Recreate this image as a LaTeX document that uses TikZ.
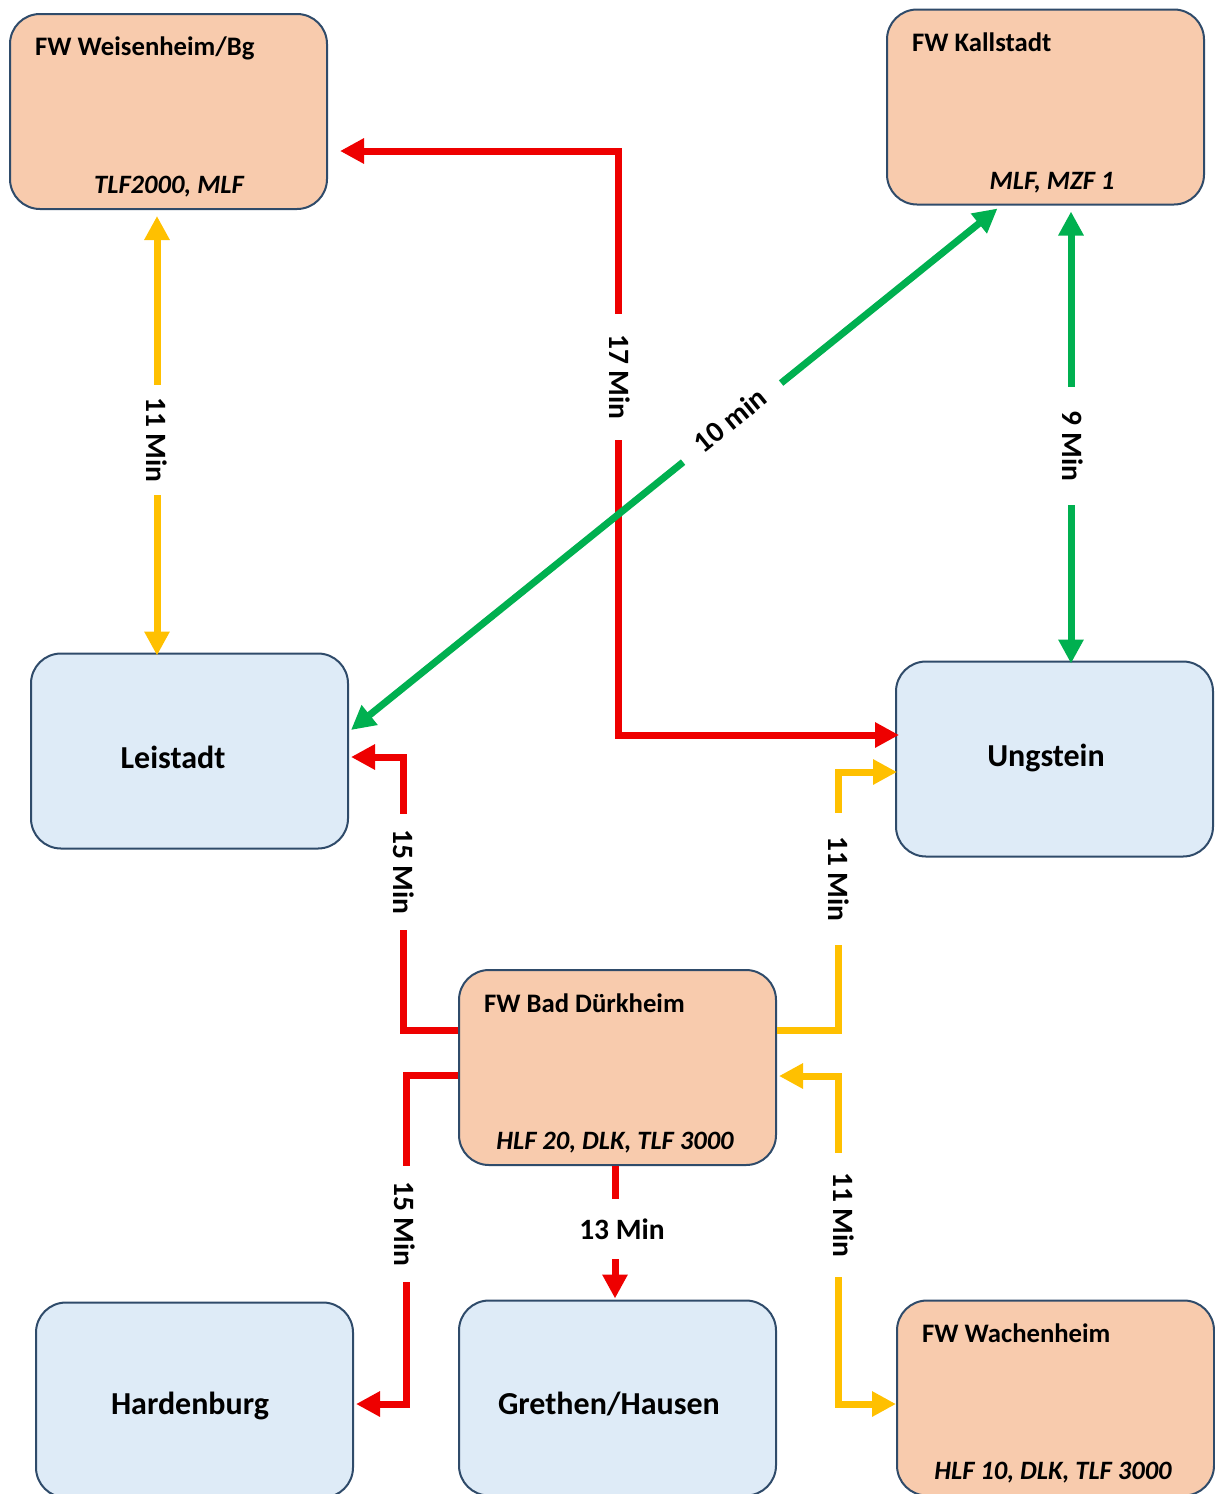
\documentclass[tikz,border=0pt]{standalone}
\usepackage{fontspec}
\setmainfont{Carlito}
\usetikzlibrary{arrows.meta, positioning, calc}
\definecolor{cred}{HTML}{EE0000}
\definecolor{cyellow}{HTML}{FFC000}
\definecolor{cgreen}{HTML}{00B050}
\definecolor{corange}{HTML}{F8CBAD}
\definecolor{clblue}{HTML}{DEEBF7}
\definecolor{cborder}{HTML}{2F4B6A}

\begin{document}
\begin{tikzpicture}[
    x=1pt, y=-1pt,
    box/.style={draw=cborder, line width=2pt, rounded corners=30pt, minimum width=317pt, minimum height=195pt, inner sep=0pt, fill=#1},
    box/.default=clblue,
    place/.style={font=\fontsize{32}{37}\selectfont\bfseries},
    title/.style={anchor=base west, inner sep=0pt, font=\fontsize{26.7}{31}\selectfont\bfseries},
    vehicles/.style={anchor=base, inner sep=0pt, font=\fontsize{26.5}{31}\selectfont\bfseries\itshape},
    both/.style={line width=7pt, draw=#1, {Triangle[length=24pt, width=24pt]}-{Triangle[length=24pt, width=24pt]}},
    to/.style={line width=7pt, draw=#1, -{Triangle[length=24pt, width=24pt]}},
    time/.style={fill=white, inner xsep=#1, inner ysep=1pt, font=\fontsize{29.5}{34}\selectfont\bfseries},
    time/.default=12pt
]
\useasboundingbox (0,0) rectangle (1215,1494);

%% Fire stations
\node[box=corange] (weis) at (168.5,111.5) {};
\node[title] (weis_t) at (35,55) {FW Weisenheim/Bg};
\node[vehicles] (weis_v) at (169,193) {TLF2000, MLF};

\node[box=corange] (kall) at (1045.5,107) {};
\node[title] (kall_t) at (912,51) {FW Kallstadt};
\node[vehicles] (kall_v) at (1052,189) {MLF, MZF 1};

\node[box=corange] (bad) at (617.5,1067.5) {};
\node[title] (bad_t) at (484,1012) {FW Bad Dürkheim};
\node[vehicles] (bad_v) at (615,1149) {HLF 20, DLK, TLF 3000};

\node[box=corange] (wach) at (1055.5,1398) {};
\node[title] (wach_t) at (922,1342) {FW Wachenheim};
\node[vehicles] (wach_v) at (1053,1479) {HLF 10, DLK, TLF 3000};

%% Places
\node[box] (leis) at (189.5,751) {};
\node[place] (leis_l) at (173,757) {Leistadt};
\node[box] (ung) at (1054.5,759) {};
\node[place] (ung_l) at (1046,758) {Ungstein};
\node[box] (hard) at (194.5,1400) {};
\node[place] (hard_l) at (190,1406) {Hardenburg};
\node[box] (greth) at (617.5,1398) {};
\node[place] (greth_l) at (609,1404) {Grethen/Hausen};

%% Connectors
\draw[both=cyellow] ($(weis.south)+(-11.5,6)$) -- ($(leis.north)+(-32.5,3)$);
\draw[both=cred] ($(weis.east)+(12,39.5)$) -| (618,735) -- ($(ung.west)+(4,-24)$);
\draw[both=cgreen] ($(kall.south)+(25.5,6)$) -- ($(ung.north)+(16.5,3)$);
\draw[to=cred] ($(bad.west)+(0,-37.5)$) -| (403,757) -- ($(leis.east)+(2,6)$);
\draw[to=cred] ($(bad.west)+(0,7.5)$) -| (406,1404) -- ($(hard.east)+(2,4)$);
\draw[to=cred] ($(bad.south)+(-2.5,0)$) -- ($(greth.north)+(-2.5,-1)$);
\draw[to=cyellow] ($(bad.east)+(0,-37.5)$) -| (838,772) -- ($(ung.west)+(2,13)$);
\draw[both=cyellow] ($(bad.east)+(2,8.5)$) -| (838,1404) -- ($(wach.west)+(0,6)$);
\draw[both=cgreen] ($(leis.east)+(2,-21)$) -- ($(kall.south)+(-48,3)$);

%% Times
\node[time, rotate=-90] (t_weis) at (157,440) {11 Min};
\node[time=20pt, rotate=-90] (t_ung) at (620,377) {17 Min};
\node[time=21pt, rotate=39] (t_kall) at (730,420) {10 min};
\node[time=24pt, rotate=-90] (t_kung) at (1073,446) {9 Min};
\node[time=15pt, rotate=-90] (t_leis) at (404,872) {15 Min};
\node[time=15pt, rotate=-90] (t_hard) at (405,1224) {15 Min};
\node[time, inner ysep=20pt] (t_greth) at (622,1229) {13 Min};
\node[time=23pt, rotate=-90] (t_bung) at (839,879) {11 Min};
\node[time=19pt, rotate=-90] (t_wach) at (844,1215) {11 Min};

\end{tikzpicture}
\end{document}
